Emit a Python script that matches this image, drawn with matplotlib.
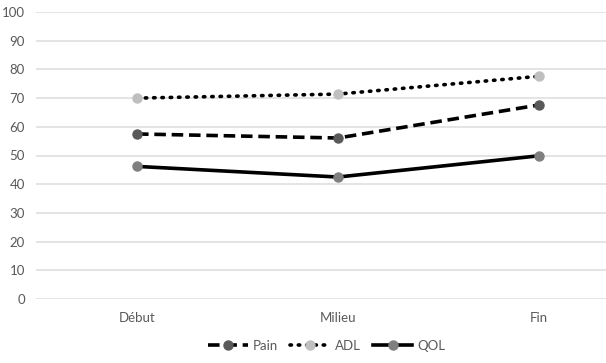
import matplotlib
matplotlib.use("Agg")
import matplotlib.pyplot as plt

categories = ["Début", "Milieu", "Fin"]
pain = [57.5, 56.1, 67.6]
adl = [70.0, 71.4, 77.6]
qol = [46.2, 42.5, 49.9]
yticks = list(range(0, 101, 10))

plt.rcParams["font.family"] = ["Lato", "DejaVu Sans"]
TXT = "#595959"

fig = plt.figure(figsize=(6.06, 3.63), dpi=100)
ax = fig.add_axes([36 / 606, 1 - 299 / 363, 570 / 606, 287 / 363])

x = range(len(categories))
ax.plot(x, pain, color="black", lw=2.6, ls=(0, (3.2, 1.6)), marker="o", ms=6.5,
        mfc="#595959", mec="#595959", label="Pain", zorder=3)
ax.plot(x, adl, color="black", lw=2.6, ls=(0, (0.4, 1.9)), dash_capstyle="round",
        marker="o", ms=6.5, mfc="#BFBFBF", mec="#BFBFBF", label="ADL", zorder=3)
ax.plot(x, qol, color="black", lw=2.6, ls="-", marker="o", ms=6.5,
        mfc="#7F7F7F", mec="#7F7F7F", label="QOL", zorder=3)

ax.set_ylim(0, 100)
ax.set_yticks(yticks)
ax.set_xlim(-101 / 201, 2 + 67 / 201)
ax.set_xticks(list(x))
ax.set_xticklabels(categories)
ax.grid(axis="y", color="#DDDDDD", lw=1.1)
ax.set_axisbelow(True)
for s in ax.spines.values():
    s.set_visible(False)
ax.tick_params(length=0, colors=TXT, labelsize=9.5)
ax.tick_params(axis="y", pad=8)
ax.tick_params(axis="x", pad=9)

ax.legend(loc="center", bbox_to_anchor=(327 / 606, 17 / 363),
          bbox_transform=fig.transFigure, ncol=3, frameon=False,
          fontsize=9.5, labelcolor=TXT, handlelength=3.0, handletextpad=0.4,
          columnspacing=0.9)

fig.savefig("out.png", dpi=100)
